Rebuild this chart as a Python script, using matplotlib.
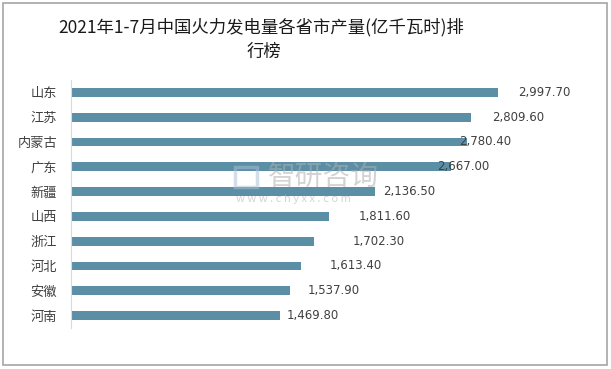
import matplotlib.pyplot as plt
from matplotlib.patches import Rectangle

plt.rcParams['font.family'] = ['Noto Sans CJK SC', 'DejaVu Sans']

# 省市与产量(亿千瓦时)
provinces = ['山东', '江苏', '内蒙古', '广东', '新疆', '山西', '浙江', '河北', '安徽', '河南']
output = [2997.70, 2809.60, 2780.40, 2667.00, 2136.50, 1811.60, 1702.30, 1613.40, 1537.90, 1469.80]
# 数据标签相对柱端的偏移(像素),原图里标签位置不齐
label_dx = [20, 21, -8, -14, 8, 30, 39, 29, 18, 6]

W, H = 611, 369
fig = plt.figure(figsize=(W / 100, H / 100), dpi=100)
fig.patch.set_facecolor('white')

# 外框
fig.patches.append(Rectangle((3 / W, 1 - 365 / H), 604 / W, 362 / H,
                             transform=fig.transFigure, fill=False,
                             edgecolor='#a6a6a6', linewidth=1.2))

fig.text(261 / W, 1 - 27 / H, '2021年1-7月中国火力发电量各省市产量(亿千瓦时)排',
         ha='center', va='center', fontsize=12.5, color='#1a1a1a', fontweight='medium')
fig.text(264 / W, 1 - 52 / H, '行榜', ha='center', va='center',
         fontsize=12.5, color='#1a1a1a', fontweight='medium')

ax = fig.add_axes([71 / W, 1 - 328 / H, (584 - 71) / W, 248 / H])
y = list(range(len(provinces)))
ax.barh(y, output, height=0.36, color='#5b8fa6')
ax.set_xlim(0, 3600)
ax.set_ylim(len(provinces) - 0.5, -0.5)
ax.set_yticks(y)
ax.set_yticklabels(provinces, fontsize=9.5, color='#404040')
ax.tick_params(axis='y', length=0, pad=10)
ax.set_xticks([])
for s in ['top', 'right', 'bottom']:
    ax.spines[s].set_visible(False)
ax.spines['left'].set_color('#d9d9d9')

for i, v in enumerate(output):
    ax.annotate(f'{v:,.2f}', (v, i), xytext=(label_dx[i] * 0.72, 0),
                textcoords='offset points', ha='left', va='center',
                fontsize=8.5, color='#404040', family=['DejaVu Sans'])

# 水印
fig.text(268 / W, 1 - 177 / H, '智研咨询', ha='left', va='center',
         fontsize=20, color='#b0b0b0', alpha=0.55)
fig.text(236 / W, 1 - 199 / H, 'w w w . c h y x x . c o m', ha='left', va='center',
         fontsize=8, color='#b0b0b0', alpha=0.55)
fig.patches.append(Rectangle((235 / W, 1 - 187 / H), 22 / W, 20 / H,
                             transform=fig.transFigure, fill=False,
                             edgecolor='#a9bfd8', linewidth=2.5, alpha=0.5))

fig.savefig('out.png', dpi=100)
